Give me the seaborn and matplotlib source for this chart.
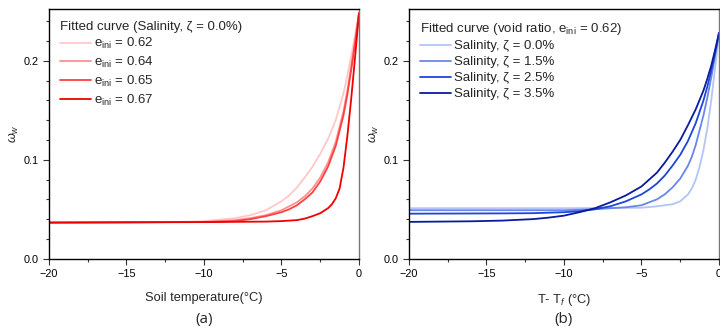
import numpy as np
import pandas as pd
import matplotlib
matplotlib.use("Agg")
import matplotlib.pyplot as plt
import seaborn as sns
from matplotlib.ticker import MultipleLocator, FormatStrFormatter

sns.set_style("ticks")
plt.rcParams['font.family'] = ['Liberation Sans', 'DejaVu Sans']
plt.rcParams['mathtext.fontset'] = 'custom'
plt.rcParams['mathtext.rm'] = 'Liberation Sans'
plt.rcParams['mathtext.it'] = 'Liberation Sans:italic'
plt.rcParams['axes.unicode_minus'] = True

# ---- Panel (a): effect of initial void ratio ----
x_062 = [-20, -14, -12, -11, -10, -9, -8, -7, -6, -5, -4.5, -4, -3.5, -3, -2.5, -2, -1.5, -1, -0.75, -0.5, -0.25, 0]
w_062 = [0.0365, 0.0368, 0.037, 0.0375, 0.038, 0.0395, 0.041, 0.044, 0.049, 0.058, 0.064, 0.072, 0.082, 0.093, 0.106, 0.121, 0.140, 0.167, 0.185, 0.205, 0.226, 0.248]
x_064 = [-20, -12, -10, -9, -8, -7, -6, -5, -4.5, -4, -3.5, -3, -2.5, -2, -1.5, -1, -0.75, -0.5, -0.25, 0]
w_064 = [0.0365, 0.037, 0.0372, 0.038, 0.039, 0.041, 0.044, 0.049, 0.053, 0.057, 0.063, 0.071, 0.082, 0.097, 0.118, 0.149, 0.170, 0.195, 0.221, 0.248]
x_065 = [-20, -12, -10, -9, -8, -7, -6, -5, -4.5, -4, -3.5, -3, -2.5, -2, -1.5, -1, -0.75, -0.5, -0.25, 0]
w_065 = [0.0365, 0.037, 0.037, 0.0375, 0.038, 0.040, 0.043, 0.047, 0.050, 0.054, 0.060, 0.067, 0.078, 0.093, 0.114, 0.145, 0.166, 0.191, 0.218, 0.248]
x_067 = [-20, -10, -6, -5, -4, -3.5, -3, -2.5, -2, -1.75, -1.5, -1.25, -1, -0.75, -0.5, -0.25, 0]
w_067 = [0.0365, 0.037, 0.0375, 0.038, 0.039, 0.0405, 0.043, 0.046, 0.051, 0.055, 0.061, 0.071, 0.092, 0.124, 0.162, 0.204, 0.248]
labels_a = [r"e$_{\mathrm{ini}}$ = 0.62", r"e$_{\mathrm{ini}}$ = 0.64",
            r"e$_{\mathrm{ini}}$ = 0.65", r"e$_{\mathrm{ini}}$ = 0.67"]
colors_a = ["#ffc8c8", "#ff9090", "#ff4040", "#f00000"]

# ---- Panel (b): effect of salinity ----
x_s00 = [-20, -10, -5, -4, -3.5, -3, -2.5, -2, -1.75, -1.5, -1.25, -1, -0.75, -0.5, -0.25, 0]
s_00 = [0.051, 0.051, 0.0515, 0.053, 0.054, 0.055, 0.058, 0.065, 0.071, 0.080, 0.093, 0.110, 0.132, 0.160, 0.193, 0.228]
x_s15 = [-20, -10, -8, -7, -6, -5, -4.5, -4, -3.5, -3, -2.5, -2, -1.75, -1.5, -1.25, -1, -0.75, -0.5, -0.25, 0]
s_15 = [0.049, 0.049, 0.050, 0.051, 0.052, 0.054, 0.057, 0.060, 0.065, 0.072, 0.081, 0.094, 0.103, 0.115, 0.130, 0.145, 0.163, 0.183, 0.205, 0.228]
x_s25 = [-20, -14, -12, -10, -9, -8, -7, -6, -5, -4.5, -4, -3.5, -3, -2.5, -2, -1.5, -1, -0.75, -0.5, -0.25, 0]
s_25 = [0.0455, 0.0458, 0.046, 0.047, 0.048, 0.050, 0.053, 0.058, 0.065, 0.070, 0.076, 0.084, 0.094, 0.105, 0.119, 0.137, 0.160, 0.174, 0.190, 0.208, 0.228]
x_s35 = [-20, -16, -14, -12, -11, -10, -9, -8, -7, -6, -5, -4.5, -4, -3.5, -3, -2.5, -2, -1.5, -1, -0.75, -0.5, -0.25, 0]
s_35 = [0.0372, 0.0378, 0.0385, 0.040, 0.0415, 0.0435, 0.047, 0.051, 0.057, 0.064, 0.073, 0.080, 0.087, 0.097, 0.108, 0.120, 0.135, 0.151, 0.170, 0.182, 0.195, 0.211, 0.228]
labels_b = ["Salinity, ζ = 0.0%", "Salinity, ζ = 1.5%", "Salinity, ζ = 2.5%", "Salinity, ζ = 3.5%"]
colors_b = ["#b4c4f6", "#6a86ea", "#1c46d8", "#0a1aa0"]

fig = plt.figure(figsize=(7.2, 3.31), dpi=100)
ax1 = fig.add_axes([0.068, 0.2184, 0.4306, 0.7535])
ax2 = fig.add_axes([0.568, 0.2184, 0.4306, 0.7535])

series_a = [(x_062, w_062), (x_064, w_064), (x_065, w_065), (x_067, w_067)]
for (xx, yy), lab, col in zip(series_a, labels_a, colors_a):
    df = pd.DataFrame({"T": xx, "w": yy})
    sns.lineplot(data=df, x="T", y="w", color=col, label=lab, lw=1.3, ax=ax1)

series_b = [(x_s00, s_00), (x_s15, s_15), (x_s25, s_25), (x_s35, s_35)]
for (xx, yy), lab, col in zip(series_b, labels_b, colors_b):
    df = pd.DataFrame({"T": xx, "w": yy})
    sns.lineplot(data=df, x="T", y="w", color=col, label=lab, lw=1.3, ax=ax2)

titles = ["Fitted curve (Salinity, ζ = 0.0%)", r"Fitted curve (void ratio, e$_{\mathrm{ini}}$ = 0.62)"]
xlabels = ["Soil temperature(°C)", r"T- T$_{f}$ (°C)"]
panels = ["(a)", "(b)"]
for ax, ttl, xl, pn in zip([ax1, ax2], titles, xlabels, panels):
    ax.set_xlim(-20, 0)
    ax.set_ylim(0, 0.252)
    ax.xaxis.set_major_locator(MultipleLocator(5))
    ax.xaxis.set_minor_locator(MultipleLocator(2.5))
    ax.yaxis.set_major_locator(MultipleLocator(0.1))
    ax.yaxis.set_minor_locator(MultipleLocator(0.02))
    ax.yaxis.set_major_formatter(FormatStrFormatter("%.1f"))
    ax.tick_params(axis="both", which="major", length=4, width=0.8, labelsize=7.8,
                   colors="#333333", labelcolor="black")
    ax.tick_params(axis="both", which="minor", length=2.5, width=0.8, colors="#333333")
    for s in ax.spines.values():
        s.set_linewidth(1.0)
        s.set_color("black")
    ax.spines["right"].set_color("#777777")
    ax.set_xlabel(xl, fontsize=9.3, labelpad=9)
    ax.set_ylabel(r"$\omega_w$", fontsize=9, labelpad=2)
    leg = ax.legend(title=ttl, loc="upper left", frameon=False, fontsize=9.5,
                    title_fontsize=9.5, handlelength=2.3, handletextpad=0.25,
                    labelspacing=0.28, borderaxespad=0.4, borderpad=0.45)
    leg._legend_box.align = "left"
    bb = ax.get_position()
    fig.text(bb.x0 + bb.width / 2, 0.035, pn, ha="center", va="center",
             fontsize=11, family=["Open Sans", "DejaVu Sans"])

fig.savefig("out.png", dpi=100)
